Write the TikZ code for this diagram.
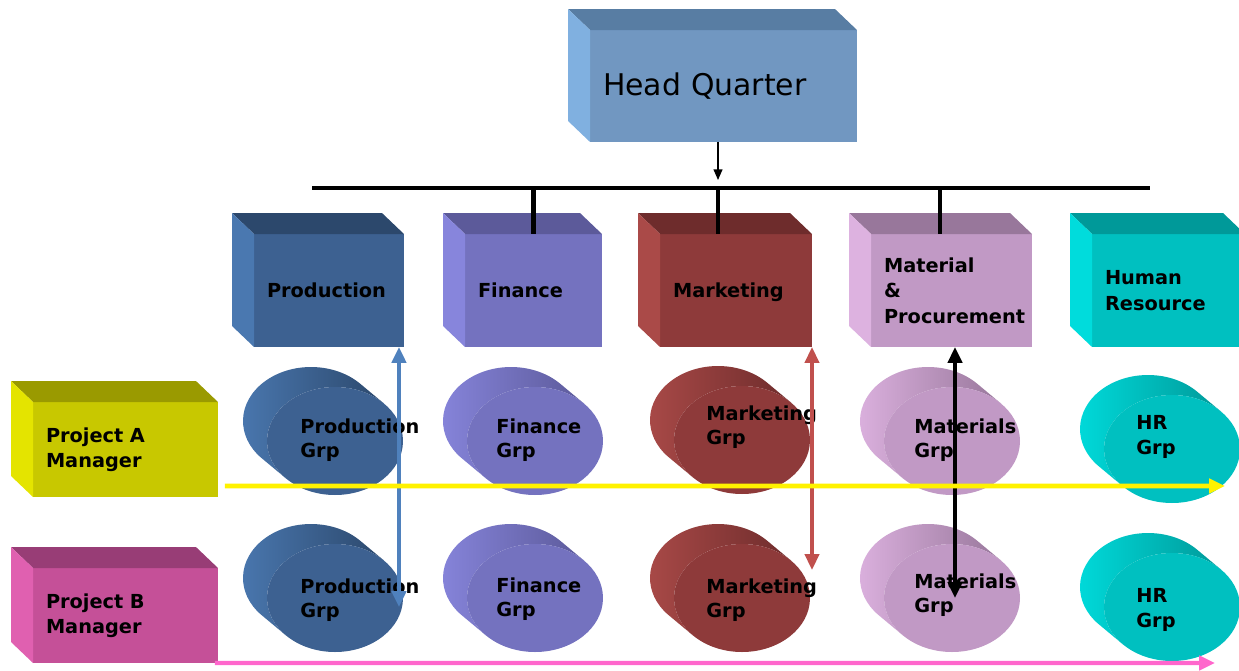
\documentclass[tikz,border=0pt]{standalone}
\usepackage{fontspec}
\setmainfont{DejaVu Sans}
\usetikzlibrary{arrows.meta, calc, shapes.geometric}

\definecolor{hqfront}{HTML}{7197C1}
\definecolor{hqtop}{HTML}{587DA3}
\definecolor{hqside}{HTML}{80B0E0}
\definecolor{prodfront}{HTML}{3D6191}
\definecolor{prodtop}{HTML}{2C486C}
\definecolor{prodside}{HTML}{4A78B0}
\definecolor{finfront}{HTML}{7472BF}
\definecolor{fintop}{HTML}{5C5A9A}
\definecolor{finside}{HTML}{8785DC}
\definecolor{mktfront}{HTML}{8E3A3A}
\definecolor{mkttop}{HTML}{6E2C2C}
\definecolor{mktside}{HTML}{AA4A48}
\definecolor{matfront}{HTML}{C199C5}
\definecolor{mattop}{HTML}{98779B}
\definecolor{matside}{HTML}{DDB2E0}
\definecolor{hrfront}{HTML}{00C0C0}
\definecolor{hrtop}{HTML}{009999}
\definecolor{hrside}{HTML}{00DCDC}
\definecolor{pafront}{HTML}{C8C800}
\definecolor{patop}{HTML}{9A9A00}
\definecolor{paside}{HTML}{E4E400}
\definecolor{pbfront}{HTML}{C55098}
\definecolor{pbtop}{HTML}{983D76}
\definecolor{pbside}{HTML}{E060B0}
\definecolor{prodarrow}{HTML}{4F81BD}
\definecolor{mktarrow}{HTML}{C0504D}
\definecolor{pinkarrow}{HTML}{FF66CC}

\begin{document}
\begin{tikzpicture}[x=0.02cm, y=-0.02cm, >={Triangle[length=9pt,width=8pt]},
  cube/.style={rectangle, inner xsep=0.26cm, inner ysep=0pt, outer sep=0pt, align=left,
    font=\fontsize{11}{14.5}\selectfont\bfseries},
  drum/.style={ellipse, minimum width=2.72cm, minimum height=2.16cm, inner sep=0pt, outer sep=0pt},
  grptext/.style={anchor=west, align=left, inner sep=0pt, font=\fontsize{11}{14}\selectfont\bfseries},
  busline/.style={line width=2.8pt}]
  \useasboundingbox (0,0) rectangle (1239,670);
  % 1. Head quarter and departments (front faces)
  \node[cube, fill=hqfront, minimum width=5.34cm, minimum height=2.24cm, text width=4.82cm,
    font=\fontsize{17}{20}\selectfont] (hq) at (723.5,86) {Head Quarter};
  \node[cube, fill=prodfront, minimum width=3cm, minimum height=2.26cm, text width=2.48cm] (prod) at (329,290.5) {Production};
  \node[cube, fill=finfront, minimum width=2.74cm, minimum height=2.26cm, text width=2.22cm] (fin) at (533.5,290.5) {Finance};
  \node[cube, fill=mktfront, minimum width=3.04cm, minimum height=2.26cm, text width=2.52cm] (mkt) at (736,290.5) {\raisebox{0pt}[\height][0pt]{Marketing}};
  \node[cube, fill=matfront, minimum width=3.22cm, minimum height=2.26cm, text width=2.7cm] (mat) at (951.5,290.5) {Material\\\&\\Procurement};
  \node[cube, fill=hrfront, minimum width=3.06cm, minimum height=2.26cm, text width=2.54cm] (hr) at (1168.5,290.5) {Human\\Resource};
  % 2. Project managers
  \node[cube, fill=pafront, minimum width=3.7cm, minimum height=1.9cm, text width=3.18cm] (pa) at (125.5,449.5) {Project A\\Manager};
  \node[cube, fill=pbfront, minimum width=3.7cm, minimum height=1.9cm, text width=3.18cm] (pb) at (125.5,615.5) {Project B\\Manager};
  % 3. Top and left faces of the boxes
  \foreach \n/\t/\s in {hq/hqtop/hqside, prod/prodtop/prodside, fin/fintop/finside, mkt/mkttop/mktside,
      mat/mattop/matside, hr/hrtop/hrside, pa/patop/paside, pb/pbtop/pbside} {
    \fill[\t] (\n.north west) -- ++(-22,-21) -- ($(\n.north east)+(-22,-21)$) -- (\n.north east) -- cycle;
    \fill[\s] (\n.north west) -- ++(-22,-21) -- ($(\n.south west)+(-22,-21)$) -- (\n.south west) -- cycle;
  }
  % 4. Groups (tilted drums)
  \foreach \n/\x/\y/\f/\l/\d in {pga/335/441/prodfront/prodside/prodtop, pgb/335/598/prodfront/prodside/prodtop,
      fga/535/441/finfront/finside/fintop, fgb/535/598/finfront/finside/fintop,
      mka/742/440/mktfront/mktside/mkttop, mkb/742/598/mktfront/mktside/mkttop,
      mta/952/441/matfront/matside/mattop, mtb/952/598/matfront/matside/mattop,
      hra/1172/449/hrfront/hrside/hrtop, hrb/1172/607/hrfront/hrside/hrtop} {
    \shade[left color=\l, right color=\d] ($(\x,\y)+(-24,-20)+(136.4:68 and 54)$)
      arc[start angle=136.4, end angle=316.4, x radius=68, y radius=54] -- ++(24,20)
      arc[start angle=316.4, end angle=136.4, x radius=68, y radius=54] -- cycle;
    \node[drum, fill=\f] (\n) at (\x,\y) {};
  }
  \node[grptext] (pgalbl) at (300,440) {Production\\Grp};
  \node[grptext] (pgblbl) at (300,600) {Production\\Grp};
  \node[grptext] (fgalbl) at (496,440) {Finance\\Grp};
  \node[grptext] (fgblbl) at (496,599) {Finance\\Grp};
  \node[grptext] (mkalbl) at (706,427) {Marketing\\Grp};
  \node[grptext] (mkblbl) at (706,600) {Marketing\\Grp};
  \node[grptext] (mtalbl) at (914,440) {Materials\\Grp};
  \node[grptext] (mtblbl) at (914,595) {Materials\\Grp};
  \node[grptext] (hralbl) at (1136,437) {HR\\Grp};
  \node[grptext] (hrblbl) at (1136,610) {HR\\Grp};
  % 5. Reporting lines from the head quarter
  \coordinate (busL) at (312,188);
  \coordinate (busR) at (1150,188);
  \coordinate (hqout) at ([xshift=-0.11cm]hq.south);
  \draw[->, line width=0.8pt, >={Triangle[length=6pt,width=5pt]}] (hqout) -- ([yshift=0.16cm]hqout |- busL);
  \draw[busline] (busL) -- (busR);
  \coordinate (finstub) at (fin.north);
  \coordinate (mktstub) at ([xshift=-0.36cm]mkt.north);
  \coordinate (matstub) at ([xshift=-0.23cm]mat.north);
  \foreach \s in {finstub, mktstub, matstub}
    \draw[busline] (\s |- busL) -- (\s);
  % 6. Functional arrows
  \coordinate (prodtip) at ([xshift=-0.1cm]prod.south east);
  \draw[<->, prodarrow, line width=2.2pt] (prodtip) -- ([yshift=-0.18cm]prodtip |- pgb.center);
  \coordinate (mkttip) at (mkt.south east);
  \draw[<->, mktarrow, line width=2pt] (mkttip) -- ([yshift=0.56cm]mkttip |- mkb.center);
  \coordinate (mattip) at ([xshift=0.07cm]mat.south);
  \draw[<->, line width=2.2pt] (mattip) -- (mattip |- mtb.center);
  % 7. Project arrows
  \coordinate (yellowend) at (1225,486);
  \draw[->, yellow, line width=2.8pt] ([xshift=0.14cm,yshift=0.22cm]pa.south east) -- (yellowend);
  \coordinate (pinkend) at (1215,663);
  \draw[->, pinkarrow, line width=2.3pt] ([xshift=-0.06cm]pb.south east) -- (pinkend);
\end{tikzpicture}
\end{document}
